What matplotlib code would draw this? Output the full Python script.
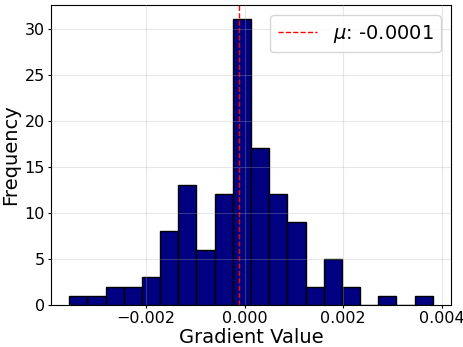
import numpy as np
import matplotlib
matplotlib.use('Agg')
import matplotlib.pyplot as plt

# histogram
bin_lo = -0.00355
bin_hi = 0.003813
counts = [1, 1, 2, 2, 3, 8, 13, 6, 12, 31, 17, 12, 9, 2, 5, 2, 0, 1, 0, 1]
mean_val = -0.000105

edges = np.linspace(bin_lo, bin_hi, len(counts) + 1)
centers = (edges[:-1] + edges[1:]) / 2

fig = plt.figure(figsize=(4.64, 3.47), dpi=100)
ax = fig.add_axes([0.110, 0.121, 0.862, 0.864])
ax.hist(centers, bins=edges, weights=counts, color='navy', edgecolor='black')
ax.axvline(mean_val, color='red', linestyle='--', linewidth=1, label=r'$\mu$: -0.0001')
ax.grid(True, alpha=0.3)
ax.set_axisbelow(False)
ax.set_xlabel('Gradient Value', fontsize=14, labelpad=1)
ax.set_ylabel('Frequency', fontsize=14, labelpad=3)
ax.tick_params(labelsize=11.5, length=2.5, pad=2)
ax.legend(fontsize=14, loc='upper right')
fig.savefig('out.png')
